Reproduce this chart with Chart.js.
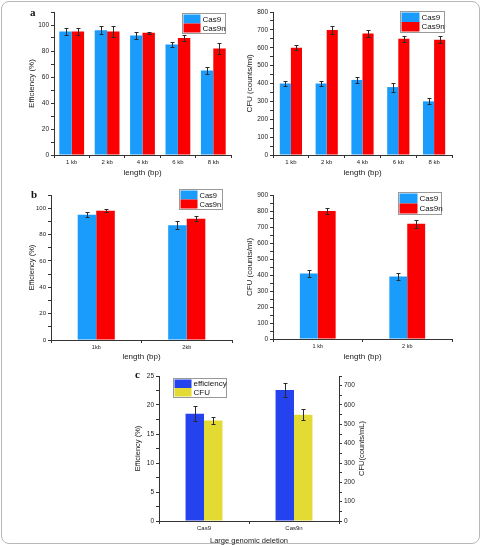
<!DOCTYPE html>
<html><head><meta charset="utf-8">
<script src="https://cdn.jsdelivr.net/npm/chart.js@4/dist/chart.umd.min.js"></script>
<style>
html,body{margin:0;padding:0;background:#fff;}
#page{position:relative;width:482px;height:545px;overflow:hidden;}
#frame{position:absolute;left:1px;top:1px;width:477px;height:541px;border:1px solid #b8b8b8;border-radius:8px;}
.pl{position:absolute;}
.pl canvas{display:block;}
.lab{position:absolute;font-family:"Liberation Serif","DejaVu Serif",serif;font-weight:bold;font-size:11px;line-height:11px;color:#111;}
</style></head>
<body><div id="page"><div id="frame"></div>
<div class="pl" style="left:0;top:0"><canvas id="c1" width="241" height="180"></canvas></div>
<div class="pl" style="left:241px;top:0"><canvas id="c2" width="241" height="180"></canvas></div>
<div class="pl" style="left:0;top:180px"><canvas id="c3" width="241" height="185"></canvas></div>
<div class="pl" style="left:241px;top:180px"><canvas id="c4" width="241" height="185"></canvas></div>
<div class="pl" style="left:120px;top:360px"><canvas id="c5" width="262" height="185"></canvas></div>
<div class="lab" style="left:30px;top:7px">a</div>
<div class="lab" style="left:31px;top:189px">b</div>
<div class="lab" style="left:135px;top:369px">c</div>
</div>
<script>
// ---------- data ----------
const lengthsA = ['1 kb','2 kb','4 kb','6 kb','8 kb'];
const effCas9A = [95, 96, 92, 85, 65];
const effCas9AErr = [3, 3, 3, 2, 3];
const effCas9nA = [95, 95, 94, 90, 82];
const effCas9nAErr = [3, 4, 1, 2, 4];
const cfuCas9A = [400, 400, 420, 380, 300];
const cfuCas9AErr = [12, 15, 15, 25, 17];
const cfuCas9nA = [600, 700, 680, 650, 645];
const cfuCas9nAErr = [15, 22, 20, 18, 20];

const lengthsB1 = ['1kb','2kb'];
const lengthsB2 = ['1 kb','2 kb'];
const effCas9B = [95, 87];
const effCas9BErr = [2, 3];
const effCas9nB = [98, 92];
const effCas9nBErr = [1, 2];
const cfuCas9B = [410, 390];
const cfuCas9BErr = [20, 20];
const cfuCas9nB = [800, 720];
const cfuCas9nBErr = [20, 25];

const enzymesC = ['Cas9','Cas9n'];
const effC = [18.5, 22.6];
const effCErr = [1.3, 1.2];
const cfuC = [520, 550];
const cfuCErr = [20, 30];

// ---------- style ----------
const BLUE = '#1a9cfc', RED = '#fa0000', DBLUE = '#2442ee', YEL = '#e4da34';
const AX = '#333', TX = '#222';
const FAM = '"Liberation Sans", Arial, sans-serif';
Chart.defaults.font.family = FAM;

const errBars = {
  id: 'errBars',
  afterDatasetsDraw(chart) {
    const ctx = chart.ctx;
    chart.data.datasets.forEach((d, i) => {
      if (!d.errors) return;
      const meta = chart.getDatasetMeta(i);
      const ys = chart.scales[meta.yAxisID];
      ctx.save();
      ctx.strokeStyle = '#2a2a2a'; ctx.lineWidth = 1;
      meta.data.forEach((el, j) => {
        const v = d.data[j], e = d.errors[j];
        const x = Math.round(el.x) + 0.5;
        const y1 = Math.round(ys.getPixelForValue(v + e)) + 0.5;
        const y2 = Math.round(ys.getPixelForValue(v - e)) + 0.5;
        ctx.beginPath();
        ctx.moveTo(x, y1); ctx.lineTo(x, y2);
        ctx.moveTo(x - 2, y1); ctx.lineTo(x + 2, y1);
        ctx.moveTo(x - 2, y2); ctx.lineTo(x + 2, y2);
        ctx.stroke();
      });
      ctx.restore();
    });
  }
};

const boxLegend = {
  id: 'boxLegend',
  afterDraw(chart, args, o) {
    if (!o || !o.display) return;
    const ctx = chart.ctx, ds = chart.data.datasets;
    const n = ds.length;
    ctx.save();
    ctx.strokeStyle = '#999'; ctx.lineWidth = 1;
    ctx.strokeRect(o.x + 0.5, o.y + 0.5, o.w, o.rowH * n + 2);
    ds.forEach((d, i) => {
      const ry = o.y + 1.5 + i * o.rowH;
      ctx.fillStyle = d.backgroundColor;
      ctx.fillRect(o.x + 1.5, ry, o.patchW, o.rowH);
      ctx.fillStyle = '#111';
      ctx.font = o.fontSize + 'px ' + FAM;
      ctx.textBaseline = 'middle';
      ctx.fillText(d.label, o.x + 3.5 + o.patchW, ry + o.rowH / 2 + 0.5);
    });
    ctx.restore();
  }
};

// right-side axis title drawn reading bottom-to-top (as in the original)
const rightTitle = {
  id: 'rightTitle',
  afterDraw(chart, args, o) {
    if (!o || !o.text) return;
    const s = chart.scales[o.axis];
    const ctx = chart.ctx;
    ctx.save();
    ctx.fillStyle = TX;
    ctx.font = o.size + 'px ' + FAM;
    ctx.textAlign = 'center';
    ctx.textBaseline = 'middle';
    ctx.translate(s.right - o.offset, (s.top + s.bottom) / 2);
    ctx.rotate(-Math.PI / 2);
    ctx.fillText(o.text, 0, 0);
    ctx.restore();
  }
};

function yAxis(p) {
  return {
    type: 'linear', position: p.pos || 'left', min: 0, max: p.max,
    afterFit(s) { s.width = p.width; },
    border: { display: true, color: AX, width: 1 },
    grid: { display: true, drawOnChartArea: false, drawTicks: true, tickLength: 3, color: AX, tickColor: AX },
    ticks: { stepSize: p.step, autoSkip: false, padding: p.tickPad ?? 2, color: TX, font: { size: p.tickSize || 6.5 },
      callback: v => (Math.abs(v / p.major - Math.round(v / p.major)) < 1e-6 ? v : '') },
    title: { display: !p.noTitle, text: p.title, color: TX, font: { size: p.titleSize || 7.5, lineHeight: 1 }, padding: { top: p.titlePad, bottom: 0 } }
  };
}
function xAxis(p) {
  return {
    type: 'category',
    afterFit(s) { s.height = p.height; },
    border: { display: true, color: AX, width: 1 },
    grid: { display: true, offset: true, drawOnChartArea: false, drawTicks: true, tickLength: 3, color: AX, tickColor: AX },
    ticks: { padding: p.tickPad ?? 1, color: TX, font: { size: p.tickSize || 6 }, maxRotation: 0, autoSkip: false },
    title: { display: true, text: p.title, color: TX, font: { size: p.titleSize || 7.5, lineHeight: 1 }, padding: { top: 0, bottom: p.titlePad } }
  };
}
function bar(label, data, errors, color, axis) {
  const o = { label, data, errors, backgroundColor: color, borderWidth: 0 };
  if (axis) o.yAxisID = axis;
  return o;
}
function make(id, labels, datasets, scales, padding, catPct, legend, rt) {
  return new Chart(document.getElementById(id), {
    type: 'bar',
    data: { labels, datasets },
    options: {
      responsive: false, animation: false, devicePixelRatio: 1,
      layout: { padding },
      datasets: { bar: { categoryPercentage: catPct, barPercentage: 1 } },
      scales,
      plugins: { legend: { display: false }, tooltip: { enabled: false },
        boxLegend: Object.assign({ display: true }, legend),
        rightTitle: rt || {} }
    },
    plugins: [errBars, boxLegend, rightTitle]
  });
}

// a - efficiency
make('c1', lengthsA,
  [bar('Cas9', effCas9A, effCas9AErr, BLUE), bar('Cas9n', effCas9nA, effCas9nAErr, RED)],
  { x: xAxis({ height: 25, title: 'length (bp)', titlePad: 3, titleSize: 8 }),
    y: yAxis({ max: 110, step: 10, major: 20, width: 54, title: 'Efficiency (%)', titlePad: 28, titleSize: 8 }) },
  { top: 12, right: 10, left: 0, bottom: 0 }, 0.7,
  { x: 182, y: 13, w: 43, rowH: 9, patchW: 17, fontSize: 8 });

// a - CFU
make('c2', lengthsA,
  [bar('Cas9', cfuCas9A, cfuCas9AErr, BLUE), bar('Cas9n', cfuCas9nA, cfuCas9nAErr, RED)],
  { x: xAxis({ height: 25, title: 'length (bp)', titlePad: 3, titleSize: 8 }),
    y: yAxis({ max: 800, step: 50, major: 100, width: 32, title: 'CFU (counts/ml)', titlePad: 5, titleSize: 8 }) },
  { top: 12, right: 30, left: 0, bottom: 0 }, 0.62,
  { x: 159, y: 11, w: 44, rowH: 9.5, patchW: 18, fontSize: 8 });

// b - efficiency
make('c3', lengthsB1,
  [bar('Cas9', effCas9B, effCas9BErr, BLUE), bar('Cas9n', effCas9nB, effCas9nBErr, RED)],
  { x: xAxis({ height: 25, title: 'length (bp)', titlePad: 4, tickSize: 5.5, titleSize: 8 }),
    y: yAxis({ max: 110, step: 10, major: 20, width: 51, title: 'Efficiency (%)', titlePad: 28, titleSize: 7.5, tickSize: 6 }) },
  { top: 15, right: 9, left: 0, bottom: 0 }, 0.41,
  { x: 179, y: 9, w: 43, rowH: 9, patchW: 17, fontSize: 7.5 });

// b - CFU
make('c4', lengthsB2,
  [bar('Cas9', cfuCas9B, cfuCas9BErr, BLUE), bar('Cas9n', cfuCas9nB, cfuCas9nBErr, RED)],
  { x: xAxis({ height: 26, title: 'length (bp)', titlePad: 4, tickSize: 5.5, titleSize: 8 }),
    y: yAxis({ max: 900, step: 50, major: 100, width: 32, title: 'CFU (counts/ml)', titlePad: 5, titleSize: 8 }) },
  { top: 15, right: 30, left: 0, bottom: 0 }, 0.4,
  { x: 157, y: 12, w: 43, rowH: 10, patchW: 18, fontSize: 8 });

// c - large genomic deletion
make('c5', enzymesC,
  [bar('efficiency', effC, effCErr, DBLUE, 'y'), bar('CFU', cfuC, cfuCErr, YEL, 'y1')],
  { x: xAxis({ height: 24, title: 'Large genomic deletion', titlePad: 0, titleSize: 7.5, tickSize: 6 }),
    y: yAxis({ max: 25, step: 2.5, major: 5, width: 39, title: 'Efficiency (%)', titlePad: 14, titleSize: 7.5 }),
    y1: yAxis({ pos: 'right', max: 750, step: 50, major: 100, width: 43, title: 'CFU(counts/mL)', noTitle: true }) },
  { top: 16, right: 0, left: 0, bottom: 0 }, 0.41,
  { x: 53, y: 18, w: 53, rowH: 8.5, patchW: 17, fontSize: 8 },
  { axis: 'y1', text: 'CFU(counts/mL)', size: 7.5, offset: 20 });
</script>
</body></html>
